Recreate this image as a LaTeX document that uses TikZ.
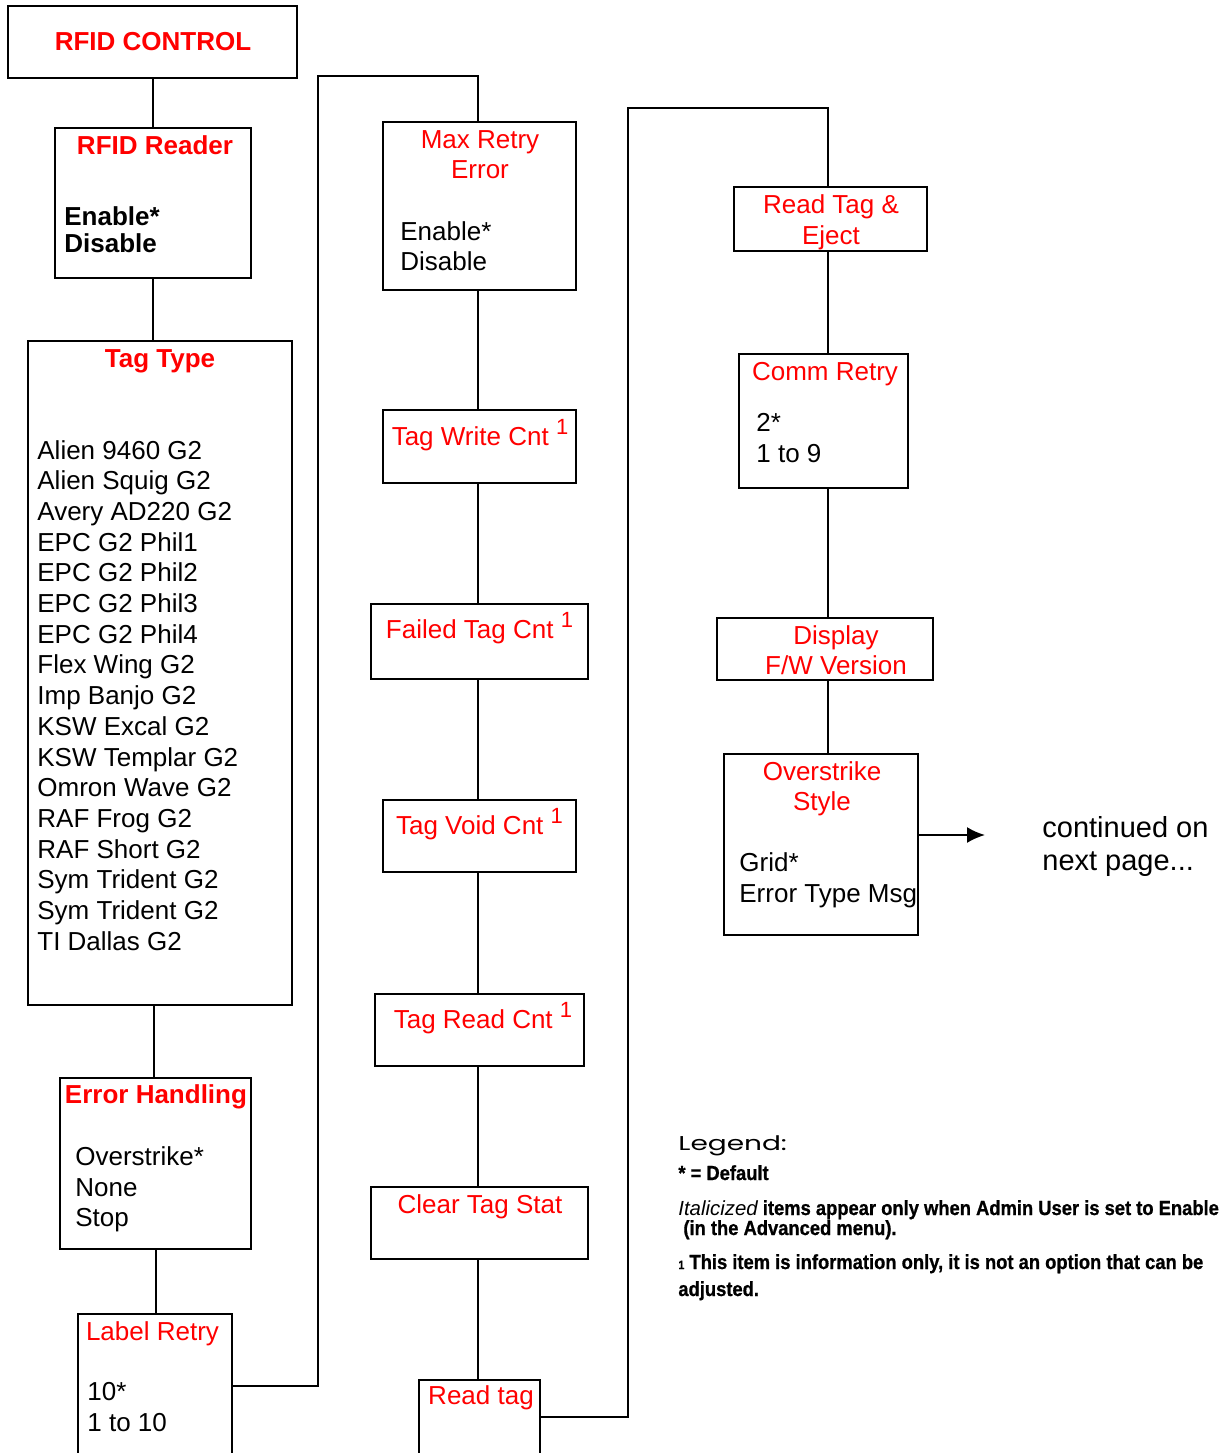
\documentclass[tikz,border=0pt]{standalone}
\usepackage{fontspec}
\setmainfont{Liberation Sans}
\newfontfamily\legfont[FakeStretch=0.9,FakeBold=0.8]{Liberation Sans}
\newfontfamily\headfont[FakeStretch=1.4]{Poppins}
\usetikzlibrary{positioning,arrows.meta}

\tikzset{
  box/.style={draw, line width=1pt, inner sep=0pt},
  ttl/.style={text=red, inner sep=0pt, anchor=base, font=\fontsize{13}{15}\selectfont},
  bttl/.style={ttl, font=\fontsize{13}{15}\selectfont\bfseries},
  itm/.style={inner sep=0pt, anchor=base west, font=\fontsize{13}{15}\selectfont},
  bitm/.style={itm, font=\fontsize{13}{15}\selectfont\bfseries},
  conn/.style={line width=1pt},
  leg/.style={inner sep=0pt, anchor=base west, font=\legfont\fontsize{10.2}{12}\selectfont\bfseries},
}
\newcommand{\one}{\raisebox{5.5pt}{\fontsize{11}{13}\selectfont 1}}

\begin{document}
\begin{tikzpicture}[x=0.5pt, y=-0.5pt]
  \useasboundingbox (0,0) rectangle (1223,1453);
  \clip (0,0) rectangle (1223,1453);

  % left column
  \node[box, minimum width=144.5pt, minimum height=36pt] (ctrl) at (152.5,42) {};
  \node[bttl] (ctrlttl) at (153,50) {RFID CONTROL};

  \node[box, minimum width=98pt, minimum height=75pt] (reader) at (153,203) {};
  \node[bttl] (readerttl) at (155,154) {RFID Reader};
  \node[bitm] (reader1) at (64,225) {Enable*};
  \node[bitm] (reader2) at (64,252) {Disable};

  \node[box, minimum width=132pt, minimum height=332pt] (tagtype) at (160,673) {};
  \node[bttl] (tagtypettl) at (160,367) {Tag Type};
  \foreach \t [count=\i from 0] in {Alien 9460 G2, Alien Squig G2, Avery AD220 G2,
      EPC G2 Phil1, EPC G2 Phil2, EPC G2 Phil3, EPC G2 Phil4, Flex Wing G2,
      Imp Banjo G2, KSW Excal G2, KSW Templar G2, Omron Wave G2, RAF Frog G2,
      RAF Short G2, Sym Trident G2, Sym Trident G2, TI Dallas G2} {
    \pgfmathsetmacro{\ty}{459+30.7*\i}
    \node[itm] (tag\i) at (37,\ty) {\t};
  }

  \node[box, minimum width=95.5pt, minimum height=85.5pt] (errhand) at (155.5,1163.5) {};
  \node[bttl] (errhandttl) at (156,1103) {Error Handling};
  \node[itm] (errhand1) at (75,1165) {Overstrike*};
  \node[itm] (errhand2) at (75,1196) {None};
  \node[itm] (errhand3) at (75,1226) {Stop};

  \node[box, minimum width=77pt, minimum height=88pt] (lblretry) at (155,1402) {};
  \node[ttl] (lblretryttl) at (152.5,1340) {Label Retry};
  \node[itm] (lblretry1) at (87,1400) {10*};
  \node[itm] (lblretry2) at (87,1431) {1 to 10};

  \draw[conn] (ctrl.south) -- (ctrl.south |- reader.north);
  \draw[conn] (reader.south) -- (reader.south |- tagtype.north);
  \draw[conn] ([xshift=-0.75pt]errhand.north |- tagtype.south) -- ([xshift=-0.75pt]errhand.north);
  \draw[conn] (errhand.south) -- (errhand.south |- lblretry.north);

  % middle column
  \node[box, minimum width=96.5pt, minimum height=84pt] (maxretry) at (479.5,206) {};
  \node[ttl] (maxretryttl1) at (480,148) {Max Retry};
  \node[ttl] (maxretryttl2) at (480,178) {Error};
  \node[itm] (maxretry1) at (400,240) {Enable*};
  \node[itm] (maxretry2) at (400,270) {Disable};

  \node[box, minimum width=96.5pt, minimum height=36.5pt] (writecnt) at (479.5,446.5) {};
  \node[ttl] (writecntttl) at (480,445) {Tag Write Cnt \one};

  \node[box, minimum width=108.5pt, minimum height=37.5pt] (failcnt) at (479.5,641.5) {};
  \node[ttl] (failcntttl) at (479.5,638) {Failed Tag Cnt \one};

  \node[box, minimum width=96.5pt, minimum height=36pt] (voidcnt) at (479.5,836) {};
  \node[ttl] (voidcntttl) at (479.5,834) {Tag Void Cnt \one};

  \node[box, minimum width=104.5pt, minimum height=36pt] (readcnt) at (479.5,1030) {};
  \node[ttl] (readcntttl) at (483,1028) {Tag Read Cnt \one};

  \node[box, minimum width=108.5pt, minimum height=36pt] (clrstat) at (479.5,1223) {};
  \node[ttl] (clrstatttl) at (480,1213) {Clear Tag Stat};

  \node[box, minimum width=60.5pt, minimum height=60pt] (readtag) at (479.5,1440) {};
  \node[ttl] (readtagttl) at (481,1404) {Read tag};

  \coordinate (hopa) at (318,76);
  \draw[conn] ([yshift=8pt]lblretry.east) -| (hopa) -| ([xshift=-0.75pt]maxretry.north);
  \draw[conn] ([xshift=-0.75pt]maxretry.south) -- ([xshift=-0.75pt]writecnt.north);
  \draw[conn] ([xshift=-0.75pt]writecnt.south) -- ([xshift=-0.75pt]failcnt.north);
  \draw[conn] ([xshift=-0.75pt]failcnt.south) -- ([xshift=-0.75pt]voidcnt.north);
  \draw[conn] ([xshift=-0.75pt]voidcnt.south) -- ([xshift=-0.75pt]readcnt.north);
  \draw[conn] ([xshift=-0.75pt]readcnt.south) -- ([xshift=-0.75pt]clrstat.north);
  \draw[conn] ([xshift=-0.75pt]clrstat.south) -- ([xshift=-0.75pt]readtag.north);

  % right column
  \node[box, minimum width=96.5pt, minimum height=32pt] (readeject) at (830.5,219) {};
  \node[ttl] (readejectttl1) at (831,213) {Read Tag \&};
  \node[ttl] (readejectttl2) at (831,244) {Eject};

  \node[box, minimum width=84.5pt, minimum height=67pt] (commretry) at (823.5,421) {};
  \node[ttl] (commretryttl) at (825,380) {Comm Retry};
  \node[itm] (commretry1) at (756,431) {2*};
  \node[itm] (commretry2) at (756,462) {1 to 9};

  \node[box, minimum width=108pt, minimum height=31pt] (fwver) at (825,649) {};
  \node[ttl] (fwverttl1) at (836,644) {Display};
  \node[ttl] (fwverttl2) at (836,674) {F/W Version};

  \node[box, minimum width=97pt, minimum height=90.5pt] (ovstyle) at (821,844.5) {};
  \node[ttl] (ovstylettl1) at (822,780) {Overstrike};
  \node[ttl] (ovstylettl2) at (822,810) {Style};
  \node[itm] (ovstyle1) at (739,871) {Grid*};
  \node[itm] (ovstyle2) at (739,902) {Error Type Msg};

  \coordinate (hopb) at (628,108);
  \coordinate (rcol) at (828,0);
  \draw[conn] ([yshift=11.5pt]readtag.east) -| (hopb) -| (rcol |- readeject.north);
  \draw[conn] (rcol |- readeject.south) -- (rcol |- commretry.north);
  \draw[conn] (rcol |- commretry.south) -- (rcol |- fwver.north);
  \draw[conn] (rcol |- fwver.south) -- (rcol |- ovstyle.north);

  \coordinate (contarrow) at (985,835);
  \draw[conn, -{Latex[length=9pt,width=8pt]}] ([yshift=4.75pt]ovstyle.east) -- (contarrow);
  \node[itm, font=\fontsize{14.5}{17}\selectfont] (cont1) at (1042,837) {continued on};
  \node[itm, font=\fontsize{14.5}{17}\selectfont] (cont2) at (1042,870) {next page...};

  % legend
  \node[inner sep=0pt, anchor=base west, font=\headfont\fontsize{10}{12}\selectfont] (legttl) at (678,1150) {Legend:};
  \node[leg] (leg1) at (678,1180) {* = Default};
  \node[leg] (leg2) at (678,1215) {{\normalfont\itshape Italicized} items appear only when Admin User is set to Enable};
  \node[leg] (leg3) at (683,1235) {(in the Advanced menu).};
  \node[leg] (leg4) at (678,1269) {{\fontsize{6}{7}\selectfont 1} This item is information only, it is not an option that can be};
  \node[leg] (leg5) at (678,1296) {adjusted.};
\end{tikzpicture}
\end{document}
